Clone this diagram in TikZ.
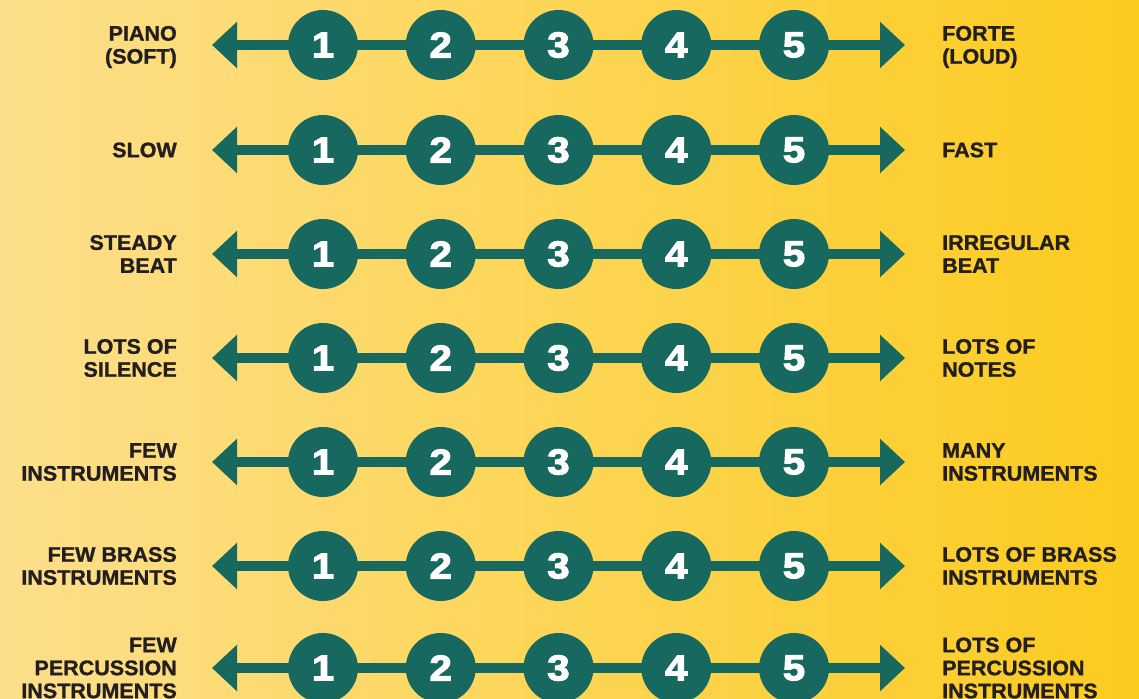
\documentclass[tikz,border=0pt]{standalone}
\usepackage{fontspec}
\setmainfont{Liberation Sans}
\newfontfamily\lblfont[FakeBold=1.2,FakeStretch=1.025]{Liberation Sans Bold}
\newfontfamily\digitfont[FakeBold=3,FakeStretch=1.12]{Liberation Sans Bold}
\usetikzlibrary{arrows.meta}
\definecolor{teal}{RGB}{23,104,94}
\definecolor{bgleft}{RGB}{253,223,140}
\definecolor{bgright}{RGB}{252,203,30}
\definecolor{ink}{RGB}{35,31,32}
\begin{document}
\begin{tikzpicture}[x=1pt,y=-1pt,
  numdot/.style={circle,fill=teal,minimum size=70pt,inner sep=0pt,text=white,font=\digitfont\fontsize{36}{36}\selectfont},
  scaleline/.style={line width=10pt,draw=teal,{Triangle[width=45pt,length=25pt]}-{Triangle[width=45pt,length=25pt]}},
  leftlbl/.style={anchor=east,align=right,inner sep=0pt,text=ink,font=\lblfont\fontsize{21}{23}\selectfont},
  rightlbl/.style={anchor=west,align=left,inner sep=0pt,text=ink,font=\lblfont\fontsize{21}{23}\selectfont}]
\shade[left color=bgleft,right color=bgright] (0,0) rectangle (1139,698);
\useasboundingbox (0,0) rectangle (1139,698);
\foreach \r/\yy/\ty/\lt/\rt in {
  1/45/47/{PIANO\\(SOFT)}/{FORTE\\(LOUD)},
  2/150/150/{SLOW}/{FAST},
  3/254/254/{STEADY\\BEAT}/{IRREGULAR\\BEAT},
  4/358/358/{LOTS OF\\SILENCE}/{LOTS OF\\NOTES},
  5/462/462/{FEW\\INSTRUMENTS}/{MANY\\INSTRUMENTS},
  6/566/566/{FEW BRASS\\INSTRUMENTS}/{LOTS OF BRASS\\INSTRUMENTS},
  7/668/668/{FEW\\PERCUSSION\\INSTRUMENTS}/{LOTS OF\\PERCUSSION\\INSTRUMENTS}}{
  \coordinate (L\r) at (212,\yy);
  \coordinate (R\r) at (905,\yy);
  \draw[scaleline] (L\r) -- (R\r);
  \foreach \i in {1,...,5}{
    \node[numdot] (c\r-\i) at ({323+117.75*(\i-1)},\yy) {\i};
  }
  \node[leftlbl] (lt\r) at (177,\ty) {\lt};
  \node[rightlbl] (rt\r) at (942,\ty) {\rt};
}
\end{tikzpicture}
\end{document}
